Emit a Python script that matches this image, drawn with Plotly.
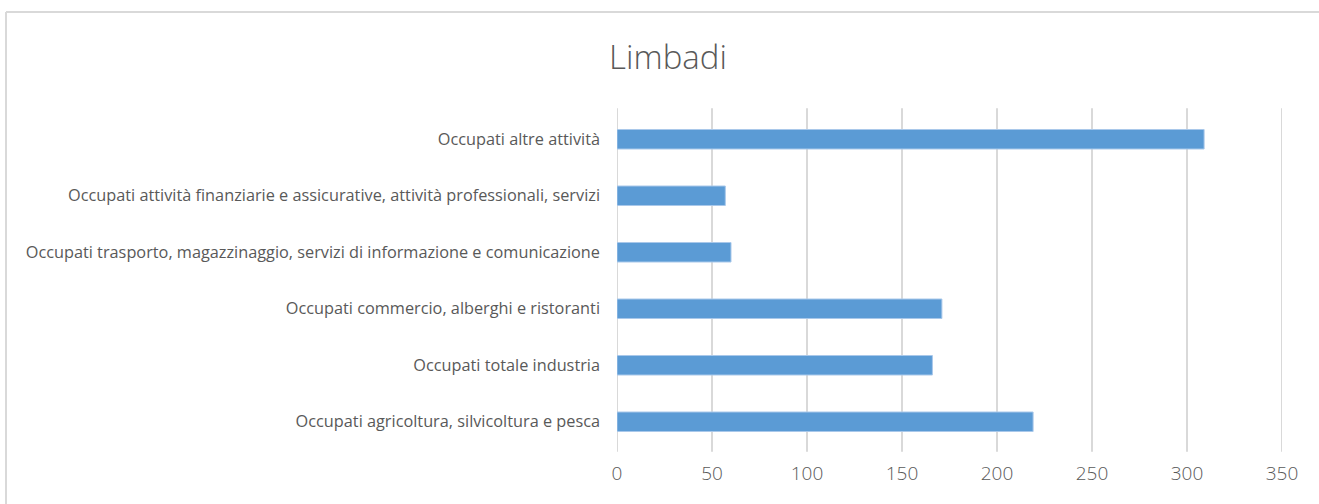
import plotly.graph_objects as go

# Employment by sector in Limbadi
categories = [
    "Occupati agricoltura, silvicoltura e pesca",
    "Occupati totale industria",
    "Occupati commercio, alberghi e ristoranti",
    "Occupati trasporto, magazzinaggio, servizi di informazione e comunicazione",
    "Occupati attività finanziarie e assicurative, attività professionali, servizi",
    "Occupati altre attività",
]
values = [219, 166, 171, 60, 57, 309]
x_ticks = [0, 50, 100, 150, 200, 250, 300, 350]

W, H = 1319, 504
L, R, T, B = 617, 37, 111, 54
GRID = "#d9d9d9"

fig = go.Figure(
    go.Bar(
        x=values,
        y=categories,
        orientation="h",
        marker=dict(color="#5b9bd5", line=dict(color="#a9c8ea", width=1)),
    )
)

fig.update_layout(
    width=W,
    height=H,
    margin=dict(l=L, r=R, t=T, b=B, pad=0),
    paper_bgcolor="white",
    plot_bgcolor="white",
    bargap=0.655,
    showlegend=False,
    title=dict(
        text="Limbadi",
        x=668 / W,
        xref="container",
        xanchor="center",
        y=1 - 57 / H,
        yref="container",
        yanchor="middle",
        font=dict(family="Open Sans", size=33, color="#595959", weight=300),
    ),
    font=dict(family="Open Sans", color="#595959"),
)

fig.update_xaxes(
    range=[0, 350],
    tickvals=x_ticks,
    ticktext=[str(v) for v in x_ticks],
    showgrid=False,
    zeroline=False,
    showline=False,
    ticks="",
    tickfont=dict(family="Open Sans", size=19, color="#595959", weight=300),
    ticklabelstandoff=10,
)
fig.update_yaxes(
    categoryorder="array",
    categoryarray=categories,
    showgrid=False,
    zeroline=False,
    showline=False,
    ticks="",
    tickfont=dict(family="Open Sans", size=16.3, color="#595959"),
    ticklabelstandoff=16,
)

# Vertical gridlines at every tick, including both range ends
for v in x_ticks:
    fig.add_shape(
        type="line", xref="x", yref="paper",
        x0=v, x1=v, y0=-0.005, y1=1.008,
        line=dict(color=GRID, width=2), layer="below",
    )

# Chart frame: left and top edges
fig.add_shape(
    type="line", xref="paper", yref="paper",
    x0=(6 - L) / (W - L - R), x1=(6 - L) / (W - L - R),
    y0=(H - B - H) / (H - T - B) - 0.1, y1=(H - B - 12) / (H - T - B),
    line=dict(color=GRID, width=2), layer="below",
)
fig.add_shape(
    type="line", xref="paper", yref="paper",
    x0=(6 - L) / (W - L - R), x1=(W + 10 - L) / (W - L - R),
    y0=(H - B - 12) / (H - T - B), y1=(H - B - 12) / (H - T - B),
    line=dict(color=GRID, width=2), layer="below",
)

fig.write_html("out.html")
